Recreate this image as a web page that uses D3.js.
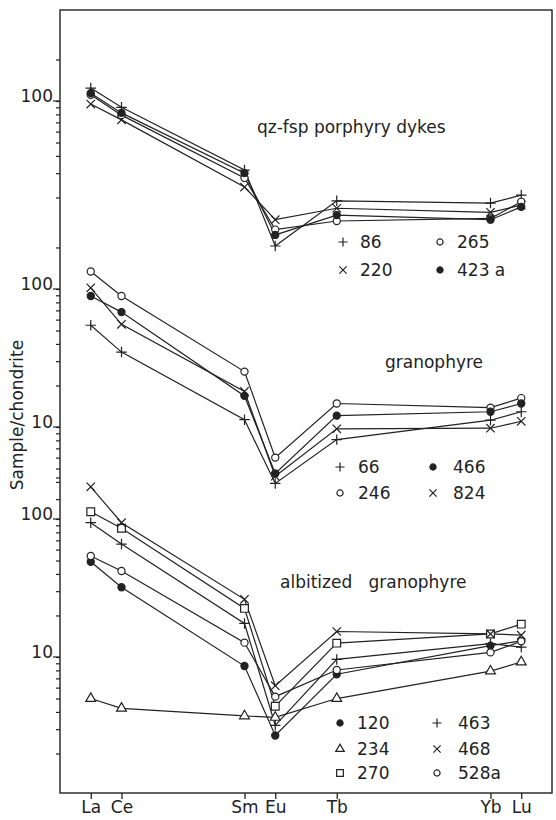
<!DOCTYPE html>
<html>
<head>
<meta charset="utf-8">
<script src="https://cdn.jsdelivr.net/npm/d3@7"></script>
<style>
  body { margin: 0; background: #fff; }
  svg text { font-family: "DejaVu Sans", sans-serif; fill: #222; white-space: pre; }
</style>
</head>
<body>
<script>
// REE elements and their atomic numbers (x position)
var elements = ["La", "Ce", "Sm", "Eu", "Tb", "Yb", "Lu"];
var atomicNumbers = [57, 58, 62, 63, 65, 70, 71];

// qz-fsp porphyry dykes
var dyke86 = [124, 90, 31.6, 8.9, 18.9, 18.2, 20.8];
var dyke220 = [95, 73, 23.8, 13.8, 16.7, 15.6, 17.6];
var dyke265 = [111, 79, 27.7, 11.7, 13.5, 14.1, 18.6];
var dyke423a = [114, 82, 30, 10.7, 14.9, 13.8, 17.1];

// granophyre
var gran66 = [54.6, 34.9, 11.3, 3.9, 8.1, 11.2, 12.9];
var gran246 = [134, 89, 25.2, 6.0, 14.8, 13.8, 16.2];
var gran466 = [89, 68, 16.8, 4.6, 12.1, 12.9, 14.8];
var gran824 = [102, 55.5, 18.1, 4.4, 9.7, 9.8, 11.0];

// albitized granophyre
var alb120 = [49, 32, 8.6, 2.7, 7.5, 12.1, 13.1];
var alb234 = [5.0, 4.25, 3.74, 3.65, 5.0, 7.9, 9.2];
var alb270 = [113, 85.6, 22.5, 4.4, 12.6, 14.7, 17.3];
var alb463 = [94, 65.8, 17.5, 3.2, 9.6, 12.5, 11.8];
var alb468 = [171, 94, 26.2, 6.2, 15.3, 14.7, 14.4];
var alb528a = [54, 42, 12.7, 5.16, 8.05, 10.8, 13.0];

// y tick values of each panel
var ticks1 = [200, 100, 90, 80, 70, 60, 50, 40, 30, 20];
var ticks2 = [200, 100, 90, 80, 70, 60, 50, 40, 30, 20, 10, 9, 8, 7, 6, 5, 4, 3];
var ticks3 = [200, 100, 90, 80, 70, 60, 50, 40, 30, 20, 10, 9, 8, 7, 6, 5, 4, 3, 2];
var labels1 = [100];
var labels2 = [100, 10];
var labels3 = [100, 10];

var svgWidth = 556;
var svgHeight = 820;
var frame = { left: 60, top: 10, right: 552, bottom: 793 };

var svg = d3.select("body")
  .append("svg")
  .attr("width", svgWidth)
  .attr("height", svgHeight);

var x = d3.scaleLinear().domain([56, 72]).range([frame.left, frame.right]);

// custom line symbols
var plusType = {
  draw: function (ctx, size) {
    var r = Math.sqrt(size) / 2;
    ctx.moveTo(-r, 0); ctx.lineTo(r, 0);
    ctx.moveTo(0, -r); ctx.lineTo(0, r);
  }
};
var timesType = {
  draw: function (ctx, size) {
    var r = Math.sqrt(size) / 2;
    ctx.moveTo(-r, -r); ctx.lineTo(r, r);
    ctx.moveTo(-r, r); ctx.lineTo(r, -r);
  }
};

var markers = {
  plus: { type: plusType, size: 110, fill: "none" },
  times: { type: timesType, size: 70, fill: "none" },
  circle: { type: d3.symbolCircle, size: 40, fill: "#fff" },
  dot: { type: d3.symbolCircle, size: 40, fill: "#222" },
  triangle: { type: d3.symbolTriangle, size: 42, fill: "#fff" },
  square: { type: d3.symbolSquare, size: 60, fill: "#fff" }
};

var panels = [
  {
    y: d3.scaleLog().domain([10, 1000]).range([239, -37]),
    ticks: ticks1, labels: labels1,
    title: "qz-fsp porphyry dykes", titleX: 257, titleY: 133,
    series: [
      { name: "86", values: dyke86, marker: "plus" },
      { name: "220", values: dyke220, marker: "times" },
      { name: "265", values: dyke265, marker: "circle" },
      { name: "423 a", values: dyke423a, marker: "dot" }
    ],
    legend: { cols: [[343, 360], [440, 457]], rows: [242, 270],
      order: [[0, 0, 0], [2, 1, 0], [1, 0, 1], [3, 1, 1]] }
  },
  {
    y: d3.scaleLog().domain([10, 100]).range([427, 289]),
    ticks: ticks2, labels: labels2,
    title: "granophyre", titleX: 385, titleY: 368,
    series: [
      { name: "66", values: gran66, marker: "plus" },
      { name: "246", values: gran246, marker: "circle" },
      { name: "466", values: gran466, marker: "dot" },
      { name: "824", values: gran824, marker: "times" }
    ],
    legend: { cols: [[340, 358], [433, 453]], rows: [467, 493],
      order: [[0, 0, 0], [1, 0, 1], [2, 1, 0], [3, 1, 1]] }
  },
  {
    y: d3.scaleLog().domain([10, 100]).range([657, 519]),
    ticks: ticks3, labels: labels3,
    title: "albitized   granophyre", titleX: 280, titleY: 588,
    series: [
      { name: "120", values: alb120, marker: "dot" },
      { name: "234", values: alb234, marker: "triangle" },
      { name: "270", values: alb270, marker: "square" },
      { name: "463", values: alb463, marker: "plus" },
      { name: "468", values: alb468, marker: "times" },
      { name: "528a", values: alb528a, marker: "circle" }
    ],
    legend: { cols: [[340, 357], [437, 458]], rows: [723, 749, 773],
      order: [[0, 0, 0], [1, 0, 1], [2, 0, 2], [3, 1, 0], [4, 1, 1], [5, 1, 2]] }
  }
];

// frame
svg.append("rect")
  .attr("x", frame.left)
  .attr("y", frame.top)
  .attr("width", frame.right - frame.left)
  .attr("height", frame.bottom - frame.top)
  .attr("fill", "none")
  .attr("stroke", "#222")
  .attr("stroke-width", 1.4);

// bottom axis
var bottomAxis = d3.axisBottom(x)
  .tickValues(atomicNumbers)
  .tickSize(6)
  .tickPadding(2)
  .tickFormat(function (d, i) { return elements[i]; });

var gx = svg.append("g")
  .attr("transform", `translate(0, ${frame.bottom})`)
  .call(bottomAxis);
gx.select(".domain").remove();
gx.selectAll("line").attr("stroke", "#222").attr("stroke-width", 1.3);
gx.selectAll("text")
  .attr("font-size", 17)
  .style("font-family", "DejaVu Sans, sans-serif")
  .attr("fill", "#222");

panels.forEach(function (p) {
  // left axis of the panel
  var leftAxis = d3.axisLeft(p.y)
    .tickValues(p.ticks)
    .tickSize(4)
    .tickFormat("");
  var gy = svg.append("g")
    .attr("transform", `translate(${frame.left}, 0)`)
    .call(leftAxis);
  gy.select(".domain").remove();
  gy.selectAll("line").attr("stroke", "#222").attr("stroke-width", 1.2);

  p.labels.forEach(function (v) {
    svg.append("line")
      .attr("x1", frame.left - 7).attr("x2", frame.left)
      .attr("y1", p.y(v)).attr("y2", p.y(v))
      .attr("stroke", "#222").attr("stroke-width", 1.2);
    svg.append("text")
      .attr("x", frame.left - 7)
      .attr("y", p.y(v) + 1)
      .attr("text-anchor", "end")
      .attr("font-size", 17)
      .text(v);
  });

  // lines
  var line = d3.line()
    .x(function (d, i) { return x(atomicNumbers[i]); })
    .y(function (d) { return p.y(d); });

  p.series.forEach(function (s) {
    svg.append("path")
      .datum(s.values)
      .attr("d", line)
      .attr("fill", "none")
      .attr("stroke", "#222")
      .attr("stroke-width", 1.2);
  });

  p.series.forEach(function (s) {
    var m = markers[s.marker];
    svg.selectAll(null)
      .data(s.values)
      .enter()
      .append("path")
      .attr("transform", function (d, i) { return `translate(${x(atomicNumbers[i])}, ${p.y(d)})`; })
      .attr("d", d3.symbol().type(m.type).size(m.size))
      .attr("fill", m.fill)
      .attr("stroke", "#222")
      .attr("stroke-width", 1.2);
  });

  // title
  svg.append("text")
    .attr("x", p.titleX)
    .attr("y", p.titleY)
    .attr("font-size", 17)
    .text(p.title);

  // legend
  p.legend.order.forEach(function (o) {
    var s = p.series[o[0]];
    var m = markers[s.marker];
    var col = p.legend.cols[o[1]];
    var ry = p.legend.rows[o[2]];
    svg.append("path")
      .attr("transform", `translate(${col[0]}, ${ry})`)
      .attr("d", d3.symbol().type(m.type).size(m.size * 0.75))
      .attr("fill", m.fill)
      .attr("stroke", "#222")
      .attr("stroke-width", 1.2);
    svg.append("text")
      .attr("x", col[1])
      .attr("y", ry + 6)
      .attr("font-size", 17)
      .text(s.name);
  });
});

// y axis title
svg.append("text")
  .attr("transform", "translate(23, 415) rotate(-90)")
  .attr("text-anchor", "middle")
  .attr("font-size", 17)
  .text("Sample/chondrite");
</script>
</body>
</html>
